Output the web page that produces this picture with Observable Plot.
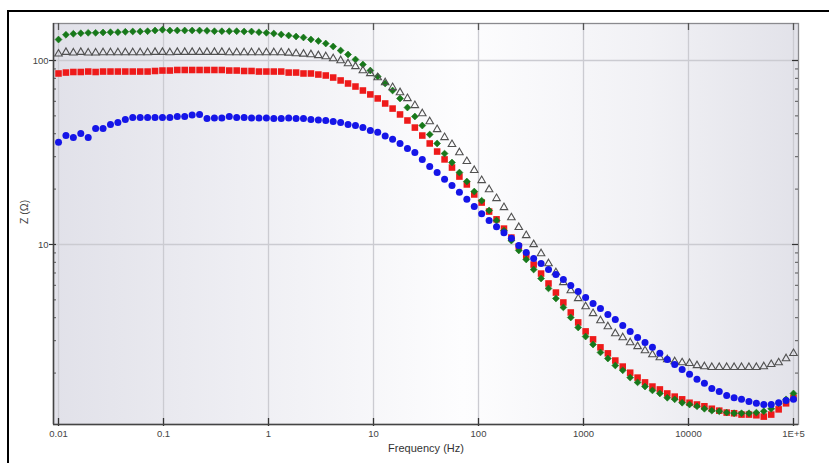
<!DOCTYPE html>
<html><head><meta charset="utf-8">
<script src="https://cdn.jsdelivr.net/npm/d3@7"></script>
<script src="https://cdn.jsdelivr.net/npm/@observablehq/plot@0.6"></script>
<style>
html,body{margin:0;padding:0;background:#fff;width:829px;height:463px;overflow:hidden;}
#wrap{position:relative;width:829px;height:463px;}
#border{position:absolute;left:7px;top:10px;width:900px;height:600px;border-left:2px solid #000;border-top:2px solid #000;}
#chart{position:absolute;left:0;top:0;}
</style></head><body>
<div id="wrap"><div id="border"></div><div id="chart"></div></div>
<script>
// Frequencies (Hz), 100 log-spaced points from 0.01 to 1E+5
const freq = [0.01, 0.01177, 0.01385, 0.0163, 0.01918, 0.02257, 0.02656, 0.03126, 0.03678, 0.04329,
  0.05094, 0.05995, 0.07055, 0.08302, 0.0977, 0.115, 0.1353, 0.1592, 0.1874, 0.2205,
  0.2595, 0.3054, 0.3594, 0.4229, 0.4977, 0.5857, 0.6893, 0.8111, 0.9545, 1.123,
  1.322, 1.556, 1.831, 2.154, 2.535, 2.984, 3.511, 4.132, 4.863, 5.722,
  6.734, 7.925, 9.326, 10.97, 12.92, 15.2, 17.89, 21.05, 24.77, 29.15,
  34.31, 40.37, 47.51, 55.91, 65.79, 77.43, 91.12, 107.2, 126.2, 148.5,
  174.8, 205.7, 242, 284.8, 335.2, 394.4, 464.2, 546.2, 642.8, 756.5,
  890.2, 1048, 1233, 1451, 1707, 2009, 2365, 2783, 3275, 3854,
  4535, 5337, 6280, 7391, 8698, 10235, 12045, 14175, 16681, 19630,
  23101, 27186, 31993, 37649, 44306, 52140, 61359, 72208, 84975, 100000];

// |Z| (Ohm) for each series
const zGreen = [130, 138, 139.7, 140.7, 141.4, 141.4, 142, 142.5, 142.5, 143.2,
  143.8, 143.8, 144.3, 145.6, 146.9, 145.6, 145.6, 145.6, 145.6, 145.6,
  145, 144.3, 144.3, 144.3, 144.3, 143.8, 143.8, 142.5, 141.4, 140.2,
  138.5, 136.7, 135, 133.4, 130.1, 127.6, 123.7, 119.2, 113.3, 107.8,
  101.3, 95.1, 88.2, 81.9, 75, 68.7, 62.2, 55.5, 49.6, 44.3,
  39.6, 35.4, 31.2, 27.9, 24.6, 22, 19.4, 17.3, 15.3, 13.5,
  11.9, 10.5, 9.28, 8.29, 7.31, 6.53, 5.77, 5.09, 4.55, 4.01,
  3.54, 3.16, 2.86, 2.59, 2.4, 2.2, 2.07, 1.89, 1.78, 1.69,
  1.61, 1.55, 1.47, 1.44, 1.38, 1.35, 1.32, 1.28, 1.25, 1.24,
  1.22, 1.21, 1.21, 1.21, 1.22, 1.24, 1.28, 1.37, 1.44, 1.55];

const zTriangle = [108.7, 110.9, 110.1, 110.9, 110.1, 110.1, 110.5, 110.5, 110.5, 110.5,
  110.5, 110.5, 110.5, 110.9, 110.9, 110.5, 110.9, 110.9, 110.9, 110.9,
  110.9, 110.9, 110.9, 110.5, 110.5, 110.5, 110.5, 110.5, 110.5, 110.5,
  110.5, 109.9, 109.1, 108.5, 107.8, 106.5, 105.1, 102.5, 100, 96.3,
  92.8, 88.2, 85, 80.8, 75.9, 71.4, 67, 62.2, 57, 51.5,
  46.6, 42.2, 38.2, 35, 31.6, 28.3, 25.3, 22.3, 19.9, 17.8,
  15.9, 14, 12.4, 11.2, 10, 8.93, 7.88, 7.04, 6.22, 5.62,
  5.09, 4.6, 4.22, 3.86, 3.58, 3.28, 3.12, 2.93, 2.79, 2.65,
  2.52, 2.43, 2.37, 2.31, 2.28, 2.26, 2.2, 2.17, 2.15, 2.15,
  2.15, 2.15, 2.15, 2.15, 2.15, 2.17, 2.23, 2.28, 2.4, 2.56];

const zRed = [85, 86, 86.6, 86.6, 87.1, 86.6, 87.1, 87.1, 87.1, 87.1,
  87.1, 87.1, 87.1, 87.7, 88.2, 88.2, 88.8, 88.8, 88.8, 88.8,
  88.8, 88.8, 88.8, 88.2, 88.2, 87.7, 87.7, 87.1, 87.1, 87.1,
  87.1, 86, 86, 85, 85, 83.9, 82.9, 80.8, 77.9, 75,
  72.2, 68.7, 65.4, 62.2, 58.4, 54.8, 50.9, 47.2, 43.2, 39.1,
  35.4, 32, 29, 26.2, 23.4, 21.2, 18.7, 16.9, 15.1, 13.7,
  12.2, 10.9, 9.76, 8.71, 7.78, 6.95, 6.14, 5.48, 4.84, 4.27,
  3.77, 3.37, 3.05, 2.76, 2.56, 2.34, 2.17, 2.01, 1.89, 1.78,
  1.69, 1.63, 1.55, 1.49, 1.44, 1.38, 1.35, 1.32, 1.28, 1.25,
  1.22, 1.21, 1.19, 1.19, 1.18, 1.16, 1.19, 1.27, 1.37, 1.47];

const zBlue = [35.9, 39.1, 38.2, 40.1, 38.2, 42.7, 42.7, 44.9, 46.1, 47.8,
  49, 49, 49, 49, 49, 49, 49.6, 49.6, 50.6, 50.9,
  48.4, 48.7, 48.7, 49.6, 49, 49, 48.7, 48.7, 48.7, 48.4,
  48.4, 48.7, 48.4, 48.4, 47.8, 47.5, 47.2, 46.6, 46.1, 44.9,
  44.3, 43.2, 41.7, 40.7, 38.9, 37.3, 35.4, 33.2, 31.6, 29,
  26.5, 24.6, 22.6, 20.9, 19.2, 17.6, 16.1, 14.7, 13.5, 12.5,
  11.6, 10.8, 9.88, 9.04, 8.38, 7.88, 7.31, 6.87, 6.45, 5.99,
  5.55, 5.15, 4.78, 4.49, 4.16, 3.91, 3.63, 3.37, 3.12, 2.93,
  2.76, 2.56, 2.37, 2.23, 2.09, 1.97, 1.85, 1.76, 1.65, 1.59,
  1.51, 1.47, 1.44, 1.4, 1.37, 1.35, 1.35, 1.38, 1.42, 1.44];

const xTickValues = [0.01, 0.1, 1, 10, 100, 1000, 10000, 100000];
const xTickLabels = ["0.01", "0.1", "1", "10", "100", "1000", "10000", "1E+5"];
const yTickValues = [10, 100];
const yTickLabels = ["10", "100"];
const yMinorValues = [2, 3, 4, 5, 6, 7, 8, 9, 20, 30, 40, 50, 60, 70, 80, 90];
const xAxisTitle = "Frequency (Hz)";
const yAxisTitle = "Z (\u03A9)";

const W = 829, H = 463, mL = 53, mR = 31, mT = 23, mB = 39;
const pw = W - mL - mR, ph = H - mT - mB;

const rows = (arr) => freq.map((f, i) => ({f, z: arr[i]}));

const chart = Plot.plot({
  width: W, height: H,
  marginLeft: mL, marginRight: mR, marginTop: mT, marginBottom: mB,
  x: {type: "log", domain: [0.00896, 111600], axis: null},
  y: {type: "log", domain: [1.051, 158.9], axis: null},
  style: {background: "transparent", fontFamily: "'Liberation Sans', Arial, sans-serif", overflow: "visible"},
  marks: [
    Plot.frame({fill: "url(#bgGrad)", stroke: null}),
    Plot.ruleX(xTickValues, {x: d => d, stroke: "#cbcbd1", strokeWidth: 1.3}),
    Plot.ruleY(yTickValues, {y: d => d, stroke: "#cbcbd1", strokeWidth: 1.3}),
    Plot.frame({stroke: "#8a8a8e", strokeWidth: 1.3}),
    Plot.tickX(xTickValues, {x: d => d, stroke: "#333", strokeWidth: 1.3, insetTop: ph - 6, insetBottom: -2}),
    Plot.tickX(xTickValues, {x: d => d, stroke: "#555", strokeWidth: 1.3, insetBottom: ph - 7}),
    Plot.tickY(yTickValues, {y: d => d, stroke: "#333", strokeWidth: 1.2, insetLeft: -4, insetRight: pw - 3}),
    Plot.tickY(yMinorValues, {y: d => d, stroke: "#555", strokeWidth: 1, insetRight: pw - 3}),
    Plot.tickY(yTickValues, {y: d => d, stroke: "#333", strokeWidth: 1.2, insetLeft: pw - 6}),
    Plot.tickY(yMinorValues, {y: d => d, stroke: "#555", strokeWidth: 1, insetLeft: pw - 3}),
    Plot.ruleX([0.00896], {x: d => d, stroke: "#444", strokeWidth: 1.5}),
    Plot.ruleY([1.051], {y: d => d, stroke: "#444", strokeWidth: 1.5}),
    Plot.dot(rows(zRed), {x: "f", y: "z", symbol: "square", r: 3.7, fill: "#ee1a1a", stroke: null}),
    Plot.dot(rows(zGreen), {x: "f", y: "z", symbol: "diamond2", r: 3.1, fill: "#17781a", stroke: "#17781a", strokeWidth: 0.6}),
    Plot.dot(rows(zTriangle), {x: "f", y: "z", symbol: "triangle", r: 2.8, fill: "none", stroke: "#505050", strokeWidth: 1.1}),
    Plot.dot(rows(zBlue), {x: "f", y: "z", symbol: "circle", r: 3.5, fill: "#1515e8", stroke: null}),
    Plot.text(xTickValues, {x: d => d, text: (d, i) => xTickLabels[i], frameAnchor: "bottom", dy: 12, fontSize: 9.5, fill: "#444", ariaLabel: "xticklabels"}),
    Plot.text(yTickValues, {y: d => d, text: (d, i) => yTickLabels[i], frameAnchor: "left", dx: -5, textAnchor: "end", fontSize: 9.5, fill: "#444"}),
    Plot.text([xAxisTitle], {text: d => d, frameAnchor: "bottom", dy: 27, fontSize: 11, fill: "#333"}),
    Plot.text([yAxisTitle], {text: d => d, frameAnchor: "left", dx: -29, rotate: -90, fontSize: 10.5, fill: "#444"})
  ]
});

const ns = "http://www.w3.org/2000/svg";
const defs = document.createElementNS(ns, "defs");
defs.innerHTML = `<linearGradient id="bgGrad" x1="0" y1="0" x2="1" y2="0">
  <stop offset="0" stop-color="#e1e1e9"/>
  <stop offset="0.25" stop-color="#eeeef3"/>
  <stop offset="0.55" stop-color="#fdfdfe"/>
  <stop offset="0.8" stop-color="#f1f1f5"/>
  <stop offset="1" stop-color="#e2e2e9"/>
</linearGradient>`;
chart.insertBefore(defs, chart.firstChild);

chart.querySelectorAll('g[aria-label="xticklabels"] text').forEach(t => {
  let tr = t.getAttribute("transform");
  if (!tr) {
    const x = t.getAttribute("x") || 0, y = t.getAttribute("y") || 0;
    t.removeAttribute("x"); t.removeAttribute("y");
    tr = `translate(${x},${y})`;
  }
  t.setAttribute("transform", tr + " scale(0.7,1)");
});

document.getElementById("chart").appendChild(chart);
</script>
</body></html>
